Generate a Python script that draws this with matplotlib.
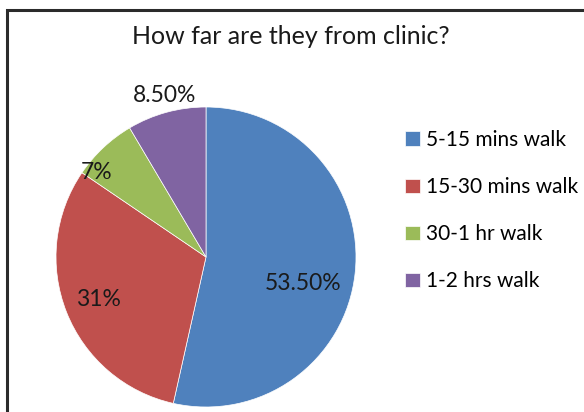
import matplotlib.pyplot as plt
import numpy as np
from matplotlib.patches import Rectangle

# distances to clinic, share of patients (%)
categories = ["5-15 mins walk", "15-30 mins walk", "30-1 hr walk", "1-2 hrs walk"]
shares = [53.5, 31, 7, 8.5]
share_labels = ["53.50%", "31%", "7%", "8.50%"]
colors = ["#4F81BD", "#C0504D", "#9BBB59", "#8064A2"]

plt.rcParams['font.family'] = ['Lato', 'DejaVu Sans']

W, H = 584, 412
fig = plt.figure(figsize=(W / 100, H / 100), dpi=100)

# chart frame (right and bottom edges are cut off in the original)
fig.patches.append(Rectangle((6.5 / W, -0.2), 2, 1.2 - 9.5 / H, transform=fig.transFigure,
                             fill=False, edgecolor="#2b2b2b", linewidth=2.2))

ax = fig.add_axes([56 / W, 5 / H, 300 / W, 300 / H])
wedges, _ = ax.pie(shares, colors=colors, startangle=90, counterclock=False,
                   radius=1, wedgeprops=dict(edgecolor="white", linewidth=0.5))
ax.set_xlim(-1, 1)
ax.set_ylim(-1, 1)

# label placement: radius fraction and angular nudge (deg) per slice
label_r = [0.67, 0.77, 0.92, 1.11]
label_dt = [-9, 0, 9, -1]
for w, txt, r, dt in zip(wedges, share_labels, label_r, label_dt):
    ang = np.deg2rad((w.theta1 + w.theta2) / 2 + dt)
    ax.text(r * np.cos(ang), r * np.sin(ang), txt, ha="center", va="center",
            fontsize=16.5, color="#1a1a1a")

fig.text(291 / W, 1 - 37 / H, "How far are they from clinic?", ha="center", va="center",
         fontsize=18, color="#1a1a1a")

fig.legend(wedges, categories, loc="upper left", bbox_to_anchor=(405 / W, 1 - 130 / H),
           frameon=False, fontsize=15, handlelength=0.7, handleheight=0.7,
           handletextpad=0.3, labelspacing=1.3, borderaxespad=0, borderpad=0)

fig.savefig("out.png", dpi=100)
